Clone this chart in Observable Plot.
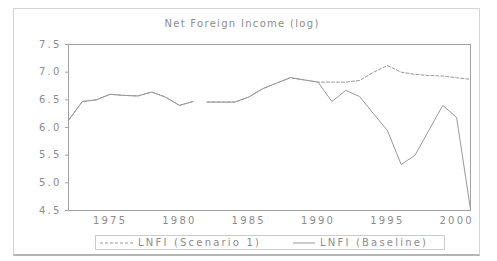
<!DOCTYPE html>
<html>
<head>
<meta charset="utf-8">
<script src="https://cdn.jsdelivr.net/npm/d3@7"></script>
<script src="https://cdn.jsdelivr.net/npm/@observablehq/plot@0.6"></script>
<style>
  html, body { margin: 0; padding: 0; background: #fff; }
  #wrap { position: relative; width: 497px; height: 261px; overflow: hidden; font-family: "DejaVu Sans", sans-serif; color: #8c8c8c; }
  #outer { position: absolute; left: 13px; top: 8px; width: 467px; height: 248px; border: 1px solid #d4d4d4; border-bottom: 2px solid #b4b4b4; box-sizing: border-box; }
  #title { position: absolute; left: 0; width: 484px; top: 18px; text-align: center; font-size: 10px; letter-spacing: 1.3px; }
  #chart { position: absolute; left: 0; top: 0; }
  #chart svg { overflow: visible; }
  #chart svg text { letter-spacing: 2.2px; }
  #legend { position: absolute; left: 95px; top: 235px; width: 350px; height: 15px; border: 1px solid #cccccc; box-sizing: border-box; }
  .item { position: absolute; top: 0; height: 13px; font-size: 10px; letter-spacing: 2.2px; line-height: 13px; white-space: nowrap; }
  .item svg { position: absolute; top: 0; left: 0; }
  .item span { position: absolute; top: 0; }
</style>
</head>
<body>
<div id="wrap">
  <div id="outer"></div>
  <div id="title"></div>
  <div id="chart"></div>
  <div id="legend"></div>
</div>
<script>
const years = [1972,1973,1974,1975,1976,1977,1978,1979,1980,1981,1982,1983,1984,1985,1986,1987,1988,1989,1990,1991,1992,1993,1994,1995,1996,1997,1998,1999,2000,2001];
const baseline = [6.13,6.47,6.50,6.60,6.58,6.57,6.64,6.55,6.40,6.47,6.46,6.46,6.46,6.55,6.70,6.80,6.90,6.86,6.82,6.47,6.67,6.56,6.25,5.95,5.33,5.50,5.95,6.40,6.18,4.52];
const scenario = [6.13,6.47,6.50,6.60,6.58,6.57,6.64,6.55,6.40,6.47,6.46,6.46,6.46,6.55,6.70,6.80,6.90,6.86,6.82,6.82,6.82,6.85,7.00,7.12,7.00,6.96,6.94,6.93,6.90,6.87];
const seriesNames = ["LNFI (Scenario 1)", "LNFI (Baseline)"];
const xTicks = [1975,1980,1985,1990,1995,2000];
const yTicks = [4.5,5.0,5.5,6.0,6.5,7.0,7.5];
const titleText = "Net Foreign Income (log)";
const breakAfter = 1981;

const gray = "#999999";
const rows = years.map((y, i) => ({year: y, base: baseline[i], scen: scenario[i], seg: y <= breakAfter ? 0 : 1}));

const chart = Plot.plot({
  width: 497,
  height: 261,
  marginLeft: 68,
  marginRight: 27,
  marginTop: 44,
  marginBottom: 51,
  style: {fontFamily: "DejaVu Sans, sans-serif", fontSize: "10px", color: "#8c8c8c", background: "transparent"},
  x: {domain: [1972, 2001], label: null},
  y: {domain: [4.5, 7.5], label: null},
  marks: [
    Plot.frame({stroke: "#a3a3a3"}),
    Plot.axisY({ticks: yTicks, tickFormat: d => d.toFixed(1), tickSize: 3, tickPadding: 4, stroke: "#a3a3a3", fill: "#8c8c8c", label: null}),
    Plot.axisX({ticks: xTicks, tickFormat: d => String(d), tickSize: 0, tickPadding: 6, fill: "#8c8c8c", label: null}),
    Plot.line(rows, {x: "year", y: "base", z: "seg", stroke: gray, strokeWidth: 1}),
    Plot.line(rows, {x: "year", y: "scen", z: "seg", stroke: gray, strokeWidth: 1, strokeDasharray: "3,2"})
  ]
});
document.getElementById("chart").appendChild(chart);
document.getElementById("title").textContent = titleText;

const legend = document.getElementById("legend");
const items = [
  {name: seriesNames[0], dash: "3,2", lineLeft: 4, lineW: 34, textLeft: 42},
  {name: seriesNames[1], dash: null, lineLeft: 197, lineW: 22, textLeft: 224}
];
items.forEach(it => {
  const d = document.createElement("div");
  d.className = "item";
  d.style.left = it.lineLeft + "px";
  const svg = d3.create("svg").attr("width", it.lineW).attr("height", 13);
  svg.append("line").attr("x1", 0).attr("x2", it.lineW).attr("y1", 7).attr("y2", 7)
    .attr("stroke", gray).attr("stroke-width", 1).attr("stroke-dasharray", it.dash);
  d.appendChild(svg.node());
  const s = document.createElement("span");
  s.style.left = (it.textLeft - it.lineLeft) + "px";
  s.textContent = it.name;
  d.appendChild(s);
  legend.appendChild(d);
});
</script>
</body>
</html>
